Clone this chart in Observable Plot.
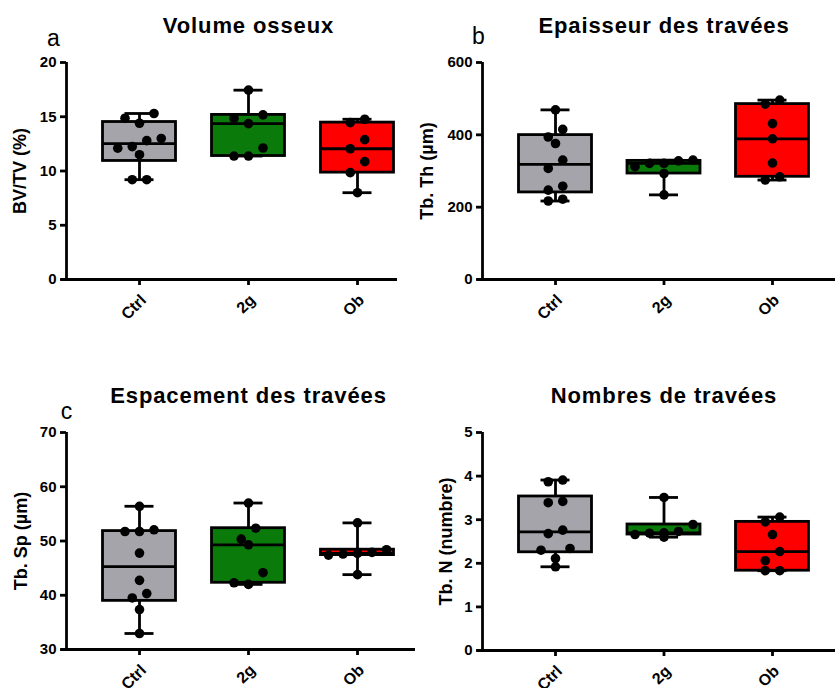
<!DOCTYPE html>
<html><head><meta charset="utf-8">
<script src="https://cdn.jsdelivr.net/npm/d3@7"></script>
<script src="https://cdn.jsdelivr.net/npm/@observablehq/plot@0.6"></script>
<style>
body{margin:0;background:#fff;}
#root{position:relative;width:835px;height:688px;overflow:hidden;background:#fff;}
.panel{position:absolute;}
.panel svg text{font-family:'Liberation Sans', Arial, sans-serif;}
</style></head><body><div id="root"></div>
<script>
// ---- data ----
const groups = ["Ctrl", "2g", "Ob"];
const groupColors = ["#a4a4aa", "#0a7a0a", "#ff0000"];

const titles = ["Volume osseux", "Epaisseur des travées", "Espacement des travées", "Nombres de travées"];
const panelLetters = ["a", "b", "c", ""];
const yLabels = ["BV/TV (%)", "Tb. Th (µm)", "Tb. Sp (µm)", "Tb. N (numbre)"];

const yTicksA = [0, 5, 10, 15, 20];
const yTicksB = [0, 200, 400, 600];
const yTicksC = [30, 40, 50, 60, 70];
const yTicksD = [0, 1, 2, 3, 4, 5];

const bvtvCtrl = [15.3, 14.86, 14.4, 13.0, 12.8, 12.25, 12.1, 11.5, 9.2, 9.2];
const bvtv2g = [17.45, 15.17, 14.86, 14.37, 12.12, 11.38, 11.38];
const bvtvOb = [14.77, 14.46, 12.89, 12.05, 10.86, 9.85, 8.0];

const tbthCtrl = [469, 415, 394, 376, 330, 307, 258, 247, 222, 217];
const tbth2g = [330, 328, 321, 321, 312, 293, 234];
const tbthOb = [496, 485, 431, 389, 322, 284, 275];

const tbspCtrl = [56.4, 52.06, 51.75, 51.75, 47.77, 42.75, 40.3, 39.5, 37.36, 32.95];
const tbsp2g = [57.0, 52.36, 50.34, 49.3, 44.16, 42.3, 42.0];
const tbspOb = [53.34, 48.4, 47.9, 47.7, 47.6, 47.4, 43.8];

const tbnCtrl = [3.91, 3.87, 3.42, 3.39, 2.76, 2.68, 2.34, 2.30, 2.11, 1.92];
const tbn2g = [3.51, 2.89, 2.73, 2.70, 2.69, 2.66, 2.60];
const tbnOb = [3.06, 2.95, 2.66, 2.27, 2.06, 1.83, 1.83];

// ---- layout ----
const panels = [
  {series: [bvtvCtrl, bvtv2g, bvtvOb], yDomain: [0, 20], yTicks: yTicksA,
   left: 0, top: 0, width: 417, height: 340, mL: 66, mR: 20, mT: 62, mB: 61,
   firstOff: 73, spacing: 109, labelDx: -46, letterDx: -13, letterDy: -24},
  {series: [tbthCtrl, tbth2g, tbthOb], yDomain: [0, 600], yTicks: yTicksB,
   left: 417, top: 0, width: 418, height: 340, mL: 65, mR: 0, mT: 62, mB: 61,
   firstOff: 73, spacing: 108.5, labelDx: -55, letterDx: -4, letterDy: -26},
  {series: [tbspCtrl, tbsp2g, tbspOb], yDomain: [30, 70], yTicks: yTicksC,
   left: 0, top: 340, width: 417, height: 348, mL: 66, mR: 2, mT: 92, mB: 39,
   firstOff: 73, spacing: 109, labelDx: -45, letterDx: 0, letterDy: -21},
  {series: [tbnCtrl, tbn2g, tbnOb], yDomain: [0, 5], yTicks: yTicksD,
   left: 417, top: 340, width: 418, height: 348, mL: 65, mR: 0, mT: 92, mB: 38,
   firstOff: 73, spacing: 108.5, labelDx: -36, letterDx: 0, letterDy: -21}
];

const FONT = "'Liberation Sans', Arial, sans-serif";
const SW = 2.8;

// GraphPad-style quantile (type 6)
function q6(sorted, p) {
  const n = sorted.length, h = p * (n + 1);
  if (h <= 1) return sorted[0];
  if (h >= n) return sorted[n - 1];
  const lo = Math.floor(h);
  return sorted[lo - 1] + (h - lo) * (sorted[lo] - sorted[lo - 1]);
}

// horizontal spreading of dots, row based (pixel offsets)
function swarm(values, pxPerY, spacingPx, rowPx) {
  const idx = values.map((v, i) => i).sort((a, b) => values[b] - values[a]);
  const off = new Array(values.length).fill(0);
  let k = 0;
  while (k < idx.length) {
    const start = values[idx[k]];
    const row = [idx[k]]; k++;
    while (k < idx.length && (start - values[idx[k]]) * pxPerY < rowPx) { row.push(idx[k]); k++; }
    const n = row.length;
    const order = n === 2 ? [1, 0] : n === 3 ? [2, 0, 1] : row.map((_, j) => n - 1 - j);
    row.forEach((id, j) => { off[id] = (order[j] - (n - 1) / 2) * spacingPx; });
  }
  return off;
}

const root = document.getElementById("root");

panels.forEach((P, pi) => {
  const frameW = P.width - P.mL - P.mR;
  const frameH = P.height - P.mT - P.mB;
  const xDom = [-P.firstOff / P.spacing, (frameW - P.firstOff) / P.spacing];
  const pxX = P.spacing; // px per x unit
  const pxY = frameH / (P.yDomain[1] - P.yDomain[0]);
  const boxHalf = 36.5 / pxX, capHalf = 14.5 / pxX;
  const xmin = xDom[0], ymin = P.yDomain[0];

  const stats = P.series.map((vals, i) => {
    const s = vals.slice().sort((a, b) => a - b);
    return {i, color: groupColors[i], min: s[0], max: s[s.length - 1],
      q1: q6(s, 0.25), med: q6(s, 0.5), q3: q6(s, 0.75)};
  });
  const points = [];
  P.series.forEach((vals, i) => {
    const off = swarm(vals, pxY, 14.5, 12);
    vals.forEach((v, j) => points.push({i, v, x: i + off[j] / pxX}));
  });

  const marks = [
    // boxes
    Plot.rectY(stats, {x1: d => d.i - boxHalf, x2: d => d.i + boxHalf, y1: "q1", y2: "q3",
      fill: "color", stroke: "black", strokeWidth: SW}),
    Plot.ruleY(stats, {y: "med", x1: d => d.i - boxHalf, x2: d => d.i + boxHalf, stroke: "black", strokeWidth: SW}),
    // whiskers
    Plot.ruleX(stats, {x: "i", y1: "q3", y2: "max", stroke: "black", strokeWidth: SW}),
    Plot.ruleX(stats, {x: "i", y1: "min", y2: "q1", stroke: "black", strokeWidth: SW}),
    Plot.ruleY(stats, {y: "max", x1: d => d.i - capHalf, x2: d => d.i + capHalf, stroke: "black", strokeWidth: SW}),
    Plot.ruleY(stats, {y: "min", x1: d => d.i - capHalf, x2: d => d.i + capHalf, stroke: "black", strokeWidth: SW}),
    // points
    Plot.dot(points, {x: "x", y: "v", r: 4.8, fill: "black", stroke: "none"}),
    // axes lines
    Plot.ruleX([xmin], {stroke: "black", strokeWidth: SW}),
    Plot.ruleY([ymin], {x1: xmin - 5 / pxX, x2: xDom[1], stroke: "black", strokeWidth: SW}),
    // y ticks
    Plot.ruleY(P.yTicks, {y: d => d, x1: xmin - 6 / pxX, x2: xmin, stroke: "black", strokeWidth: SW}),
    Plot.text(P.yTicks, {y: d => d, x: xmin, dx: -10, textAnchor: "end", lineAnchor: "middle",
      fontFamily: FONT, fontSize: 15, fontWeight: "bold", fill: "black"}),
    // x ticks
    Plot.ruleX(groups, {x: (d, i) => i, y1: ymin, y2: ymin - 6 / pxY, stroke: "black", strokeWidth: SW}),
    Plot.text(groups, {x: (d, i) => i, y: ymin, dx: 4, dy: 18, rotate: -45, textAnchor: "end", lineAnchor: "middle",
      fontFamily: FONT, fontSize: 16, fontWeight: "bold", fill: "black"}),
    // y label
    Plot.text([yLabels[pi]], {frameAnchor: "left", dx: P.labelDx, rotate: -90, textAnchor: "middle", lineAnchor: "middle",
      fontFamily: FONT, fontSize: 18, fontWeight: "bold", fill: "black"}),
    // title
    Plot.text([titles[pi]], {x: 1, frameAnchor: "top", dy: -37, textAnchor: "middle", lineAnchor: "middle",
      fontFamily: FONT, fontSize: 22, fontWeight: "bold", fill: "black"})
  ];
  if (panelLetters[pi]) {
    marks.push(Plot.text([panelLetters[pi]], {frameAnchor: "top-left", dx: P.letterDx, dy: P.letterDy,
      textAnchor: "middle", lineAnchor: "middle", fontFamily: FONT, fontSize: 23, fontWeight: "normal", fill: "black"}));
  }

  const chart = Plot.plot({
    width: P.width, height: P.height,
    marginLeft: P.mL, marginRight: P.mR, marginTop: P.mT, marginBottom: P.mB,
    x: {domain: xDom, axis: null},
    y: {domain: P.yDomain, axis: null},
    style: {fontFamily: FONT, background: "transparent", color: "black", overflow: "visible"},
    marks
  });
  // widen the title a little, as in the reference
  d3.select(chart).selectAll("text")
    .filter(function () { return this.textContent === titles[pi]; })
    .style("letter-spacing", "0.9px");
  const div = document.createElement("div");
  div.className = "panel";
  div.style.left = P.left + "px";
  div.style.top = P.top + "px";
  div.appendChild(chart);
  root.appendChild(div);
});
</script></body></html>
